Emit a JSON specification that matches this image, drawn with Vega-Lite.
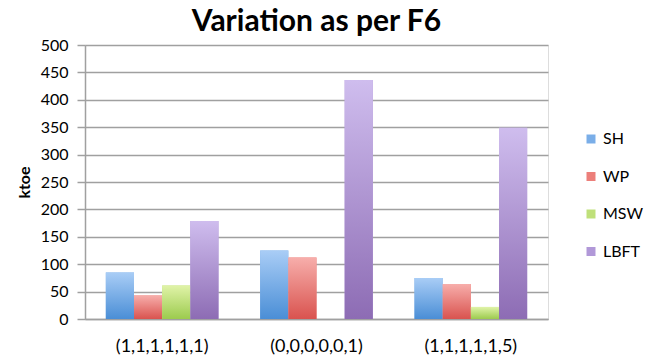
{
  "$schema": "https://vega.github.io/schema/vega-lite/v6.json",
  "width": 463,
  "height": 274,
  "autosize": {"type": "none"},
  "padding": {"left": 85, "top": 45, "right": 103, "bottom": 43},
  "background": "white",
  "title": {"text": "Variation as per F6", "font": "Lato", "fontSize": 30, "fontWeight": "bold", "color": "#000000", "anchor": "middle", "offset": 0},
  "data": {"values": [
    {"g": "(1,1,1,1,1,1)", "s": "SH", "v": 85},
    {"g": "(1,1,1,1,1,1)", "s": "WP", "v": 43},
    {"g": "(1,1,1,1,1,1)", "s": "MSW", "v": 61},
    {"g": "(1,1,1,1,1,1)", "s": "LBFT", "v": 179},
    {"g": "(0,0,0,0,0,1)", "s": "SH", "v": 125},
    {"g": "(0,0,0,0,0,1)", "s": "WP", "v": 112},
    {"g": "(0,0,0,0,0,1)", "s": "MSW", "v": 0},
    {"g": "(0,0,0,0,0,1)", "s": "LBFT", "v": 436},
    {"g": "(1,1,1,1,1,5)", "s": "SH", "v": 75},
    {"g": "(1,1,1,1,1,5)", "s": "WP", "v": 64},
    {"g": "(1,1,1,1,1,5)", "s": "MSW", "v": 22},
    {"g": "(1,1,1,1,1,5)", "s": "LBFT", "v": 349}
  ]},
  "encoding": {
    "x": {"field": "g", "type": "nominal", "sort": ["(1,1,1,1,1,1)", "(0,0,0,0,0,1)", "(1,1,1,1,1,5)"],
      "scale": {"paddingInner": 0.27, "paddingOuter": 0.135},
      "axis": {"title": null, "labelAngle": 0, "labelFont": "Lato", "labelFontSize": 18, "labelColor": "#000000", "labelPadding": 18, "ticks": false, "domainColor": "#a0a0a0", "domainWidth": 1.5}},
    "xOffset": {"field": "s", "type": "nominal", "scale": {"domain": ["SH", "WP", "MSW", "LBFT"], "paddingInner": 0, "paddingOuter": 0}},
    "y": {"field": "v", "type": "quantitative", "scale": {"domain": [0, 500], "nice": false},
      "axis": {"title": "ktoe", "titleFont": "Lato", "titleFontSize": 16, "titleFontWeight": "bold", "titleColor": "#000000", "titlePadding": 8,
        "values": [0, 50, 100, 150, 200, 250, 300, 350, 400, 450, 500],
        "labelFont": "Lato", "labelFontSize": 16, "labelColor": "#000000", "labelPadding": 9,
        "tickSize": 8, "tickColor": "#a0a0a0", "tickWidth": 1.5,
        "domainColor": "#a0a0a0", "domainWidth": 1.5,
        "grid": true, "gridColor": "#a0a0a0", "gridWidth": 1.5}}
  },
  "layer": [
    {
      "mark": {"type": "bar"},
      "encoding": {
        "color": {"field": "s", "type": "nominal",
          "scale": {"domain": ["SH", "WP", "MSW", "LBFT"], "range": ["#7aaee8", "#ec7f7a", "#bfe07a", "#b198d8"]},
          "legend": {"title": null, "orient": "none", "legendX": 498, "legendY": 86, "symbolType": "square", "symbolSize": 81, "symbolStrokeWidth": 0, "labelFont": "Lato", "labelFontSize": 16, "labelColor": "#000000", "rowPadding": 21.5, "labelOffset": 4}}
      }
    },
    {
      "transform": [{"filter": "datum.s === 'SH'"}],
      "mark": {"type": "bar", "fill": {"gradient": "linear", "x1": 0, "y1": 0, "x2": 0, "y2": 1, "stops": [{"offset": 0, "color": "#a9cdf6"}, {"offset": 1, "color": "#4a8ed6"}]}}
    },
    {
      "transform": [{"filter": "datum.s === 'WP'"}],
      "mark": {"type": "bar", "fill": {"gradient": "linear", "x1": 0, "y1": 0, "x2": 0, "y2": 1, "stops": [{"offset": 0, "color": "#f7aeab"}, {"offset": 1, "color": "#d9534f"}]}}
    },
    {
      "transform": [{"filter": "datum.s === 'MSW'"}],
      "mark": {"type": "bar", "fill": {"gradient": "linear", "x1": 0, "y1": 0, "x2": 0, "y2": 1, "stops": [{"offset": 0, "color": "#e0f3a8"}, {"offset": 1, "color": "#9ccb4e"}]}}
    },
    {
      "transform": [{"filter": "datum.s === 'LBFT'"}],
      "mark": {"type": "bar", "fill": {"gradient": "linear", "x1": 0, "y1": 0, "x2": 0, "y2": 1, "stops": [{"offset": 0, "color": "#cfbdee"}, {"offset": 1, "color": "#8d6cb4"}]}}
    }
  ]
}
